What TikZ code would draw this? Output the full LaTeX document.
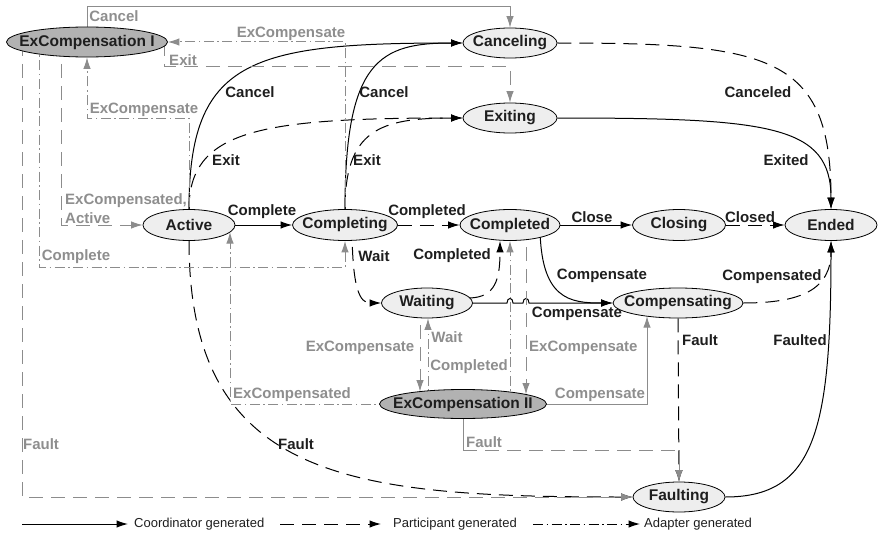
\documentclass[tikz,border=0pt]{standalone}
\usepackage{fontspec}
\setmainfont{Liberation Sans}
\usetikzlibrary{shapes.geometric,arrows.meta,calc}
\pgfdeclarelayer{edges}
\pgfsetlayers{edges,main}
\definecolor{agray}{RGB}{140,140,140}
\definecolor{tgray}{RGB}{142,142,142}
\definecolor{tblack}{RGB}{30,30,30}
\definecolor{nfill}{RGB}{238,238,238}
\definecolor{xfill}{RGB}{178,178,178}
\newcommand{\zb}[1]{\makebox[0pt]{#1}}
\begin{document}
\begin{tikzpicture}[x=1pt,y=-1pt,
  stnode/.style={ellipse,draw=black,line width=0.8pt,fill=nfill,inner sep=0pt,minimum height=30pt,font=\fontsize{15.5}{18}\selectfont\bfseries,text=tblack},
  exnode/.style={stnode,fill=xfill},
  lbl/.style={font=\fontsize{15}{18}\selectfont\bfseries,inner sep=0pt,text=tblack},
  glbl/.style={lbl,text=tgray},
  arr/.style={-{Latex[length=11.5pt,width=7.5pt]}},
  coordl/.style={draw=black,line width=1pt,arr},
  partl/.style={coordl,dash pattern=on 14pt off 8pt},
  adaptl/.style={draw=agray,line width=1pt,dash pattern=on 10pt off 3.5pt on 1.5pt off 3.5pt,arr},
  gdash/.style={draw=agray,line width=1pt,dash pattern=on 14pt off 8pt,arr},
  gsolid/.style={draw=agray,line width=1pt,arr},
  legtxt/.style={font=\fontsize{13}{15}\selectfont,inner sep=0pt,anchor=west,text=tblack}
]
\useasboundingbox (0,0) rectangle (878,535);

% states
\node[exnode,minimum width=161pt] (exI) at (87,42) {\zb{ExCompensation I}};
\node[stnode,minimum width=94pt] (canceling) at (510,43) {\zb{Canceling}};
\node[stnode,minimum width=94pt] (exiting) at (510,118) {\zb{Exiting}};
\node[stnode,minimum width=92pt,minimum height=31pt] (active) at (189,225) {\zb{Active}};
\node[stnode,minimum width=105pt,minimum height=31pt] (completing) at (345,225) {\zb{Completing}};
\node[stnode,minimum width=100pt,minimum height=31pt] (completed) at (510,225) {\zb{Completed}};
\node[stnode,minimum width=93pt,minimum height=31pt] (closing) at (679,225) {\zb{Closing}};
\node[stnode,minimum width=92pt,minimum height=31pt] (ended) at (831,225) {\zb{Ended}};
\node[stnode,minimum width=91pt] (waiting) at (427,303) {\zb{Waiting}};
\node[stnode,minimum width=130pt] (compensating) at (678,303) {\zb{Compensating}};
\node[exnode,minimum width=167pt,minimum height=29pt] (exII) at (463,404) {\zb{ExCompensation II}};
\node[stnode,minimum width=92pt] (faulting) at (679,497) {\zb{Faulting}};

\begin{pgfonlayer}{edges}
% coordinator / participant transitions
\draw[coordl] (active.north) .. controls (189,60) and (250,43) .. (canceling.west);
\draw[partl] (active.north) .. controls (189,130) and (260,118) .. (exiting.west);
\draw[coordl] (completing.north) .. controls (345,60) and (380,43) .. (canceling.west);
\draw[partl] (completing.north) .. controls (345,130) and (380,118) .. (exiting.west);
\draw[coordl] (active.east) -- (completing.west);
\draw[partl] (completing.east) -- (completed.west);
\draw[coordl] (completed.east) -- (closing.west);
\draw[partl] (closing.east) -- (ended.west);
\draw[partl] (canceling.east) .. controls (770,43) and (831,55) .. (ended.north);
\draw[coordl] (exiting.east) .. controls (770,118) and (831,125) .. (ended.north);
\draw[partl] ([xshift=7pt]completing.center) .. controls (352,290) and (360,303) .. (waiting.west);
\draw[partl] ([shift={(43,-5)}]waiting.center) .. controls (495,297) and (500,280) .. ([xshift=-10pt]completed.south);
\draw[coordl] ([xshift=30pt]completed.center) .. controls (540,300) and (570,303) .. (compensating.west);
\draw[coordl] (waiting.east) -- (507,303) .. controls (507,297) and (513,297) .. (513,303) -- (523,303) .. controls (523,297) and (529,297) .. (529,303) -- (compensating.west);
\draw[partl] (compensating.east) .. controls (800,303) and (831,290) .. (ended.south);
\draw[partl] (compensating.south) -- (faulting.north);
\draw[coordl] (faulting.east) .. controls (815,497) and (831,430) .. (ended.south);
\draw[partl] (active.south) .. controls (189,480) and (350,497) .. (faulting.west);

% adapter transitions
\draw[gsolid] (exI.north) -- ++(0,-20) -| (canceling.north);
\draw[adaptl] (completing.center) |- (exI.east);
\draw[gdash] ([xshift=-3pt]exI.east) -- ++(0,25) -| (exiting.north);
\draw[adaptl] (active.center) |- ($(exI.south)+(0,61)$) -- (exI.south);
\draw[gdash] ([xshift=-26pt]exI.center) |- (active.west);
\draw[adaptl] ([xshift=-48pt]exI.center) -- ++(0,225) -| (completing.south);
\draw[gdash] ([xshift=-65pt]exI.center) |- (faulting.west);
\draw[adaptl] (exII.center) -| ([shift={(41,7)}]active.center);
\draw[gdash] ([xshift=-7pt]waiting.center) -- ([shift={(-43,-12.4)}]exII.center);
\draw[adaptl] ([xshift=-35pt]exII.center) -- ([xshift=1pt]waiting.south);
\draw[adaptl] ([xshift=47pt]exII.center) -- (completed.south);
\draw[gdash] ([xshift=16pt]completed.center) -- ([shift={(63,-9.5)}]exII.center);
\draw[gsolid] (exII.center) -| ([shift={(-31,13.2)}]compensating.center);
\draw[draw=agray,line width=1pt] (exII.center) -- ++(0,46) coordinate (fII);
\draw[draw=agray,line width=1pt,dash pattern=on 14pt off 8pt] (fII) -- (faulting.north |- fII) coordinate (fIII);
\draw[gsolid] (fIII) -- (faulting.north);
\end{pgfonlayer}

% black labels
\node[lbl] (lCancelA) at (250,92) {Cancel};
\node[lbl] (lExitA) at (226,160) {Exit};
\node[lbl] (lCancelB) at (384,92) {Cancel};
\node[lbl] (lExitB) at (367,160) {Exit};
\node[lbl] (lComplete) at (262,212) {Complete};
\node[lbl] (lCompletedA) at (427,212) {Completed};
\node[lbl] (lClose) at (592,217) {Close};
\node[lbl] (lClosed) at (750,217) {Closed};
\node[lbl] (lCanceled) at (758,92) {Canceled};
\node[lbl] (lExited) at (786,160) {Exited};
\node[lbl] (lWait) at (374,256) {Wait};
\node[lbl] (lCompletedB) at (452,256) {Completed};
\node[lbl] (lCompA) at (602,276) {Compensate};
\node[lbl] (lCompB) at (577,314) {Compensate};
\node[lbl] (lCompensated) at (772,277) {Compensated};
\node[lbl] (lFaultA) at (700,340) {Fault};
\node[lbl] (lFaulted) at (800,340) {Faulted};
\node[lbl] (lFaultB) at (296,444) {Fault};

% gray labels
\node[glbl] (gCancel) at (114,16) {Cancel};
\node[glbl] (gExCompA) at (291,34) {ExCompensate};
\node[glbl] (gExit) at (183,60) {Exit};
\node[glbl] (gExCompB) at (144,110) {ExCompensate};
\node[glbl,anchor=west,align=left,font=\fontsize{15}{19}\selectfont\bfseries] (gExCdA) at (65,208.5) {ExCompensated,\\Active};
\node[glbl] (gComplete) at (76,257) {Complete};
\node[glbl] (gExCd) at (292,395) {ExCompensated};
\node[glbl] (gFaultA) at (41,444) {Fault};
\node[glbl] (gExCompC) at (360,348) {ExCompensate};
\node[glbl] (gWait) at (447,337) {Wait};
\node[glbl,anchor=east] (gCompleted) at (508,367) {Completed};
\node[glbl,anchor=west] (gExCompD) at (529,348) {ExCompensate};
\node[glbl] (gCompensate) at (600,395) {Compensate};
\node[glbl] (gFaultB) at (484,442) {Fault};

% legend
\coordinate (la1) at (22,524); \coordinate (la2) at (128,524);
\coordinate (lb1) at (280,524); \coordinate (lb2) at (381,524);
\coordinate (lc1) at (533,524); \coordinate (lc2) at (640,524);
\draw[coordl] (la1) -- (la2);
\draw[partl] (lb1) -- (lb2);
\draw[adaptl,draw=black] (lc1) -- (lc2);
\node[legtxt] (lt1) at (134,524) {Coordinator generated};
\node[legtxt] (lt2) at (393,524) {Participant generated};
\node[legtxt] (lt3) at (644,524) {Adapter generated};
\end{tikzpicture}
\end{document}
